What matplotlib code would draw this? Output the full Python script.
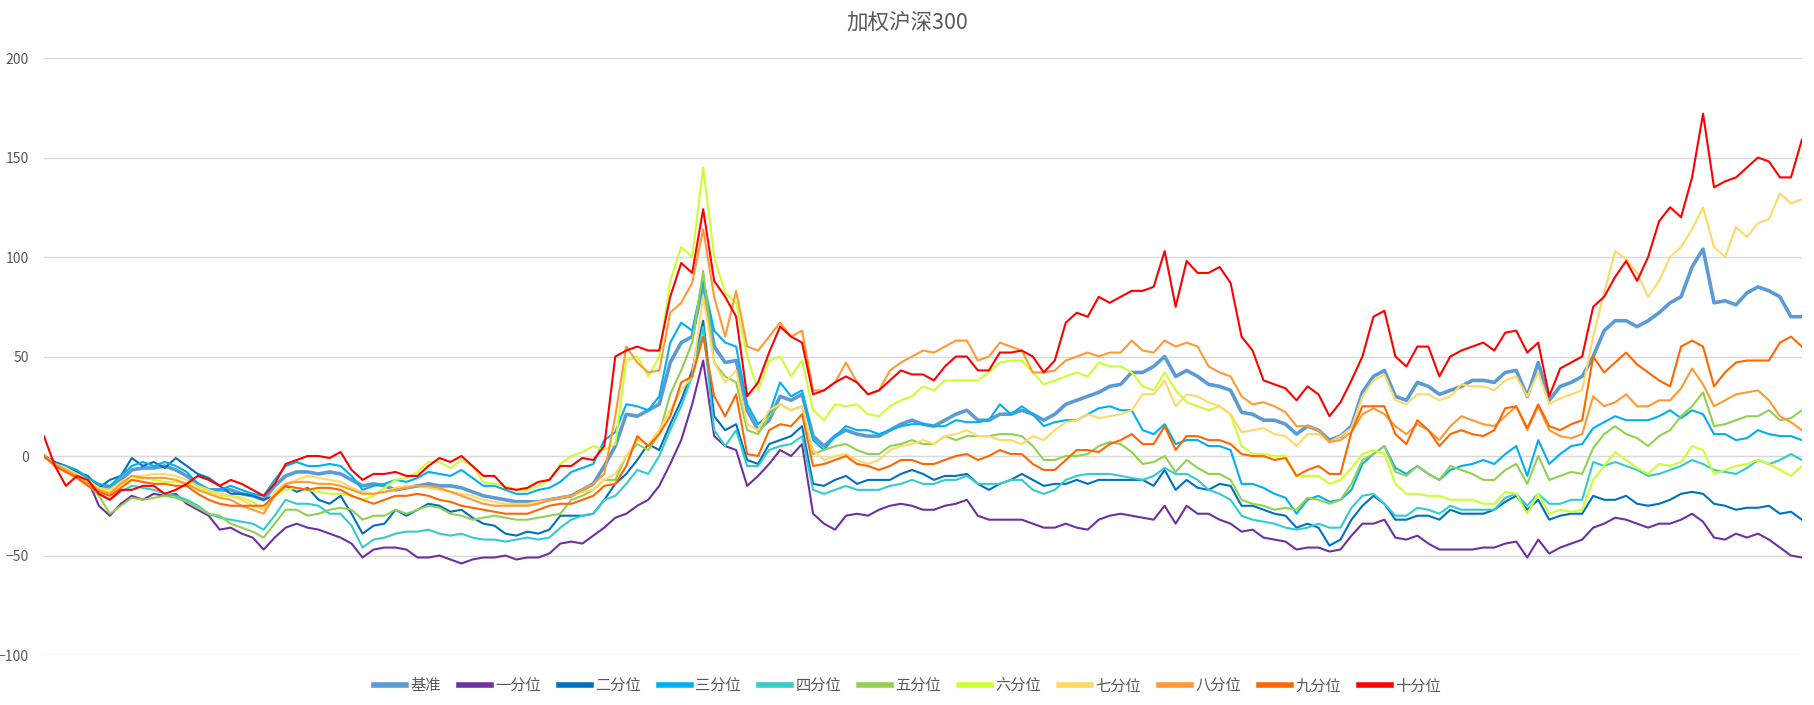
import matplotlib
matplotlib.use("Agg")
import matplotlib.pyplot as plt

plt.rcParams['font.family'] = ['Noto Sans CJK SC', 'DejaVu Sans']

# trading-day index of each sample (one reading every 10 days)
days = list(range(0, 1601, 10))

labels = ['基准', '一分位', '二分位', '三分位', '四分位', '五分位',
          '六分位', '七分位', '八分位', '九分位', '十分位']

bench = [0, -4, -6, -8, -12, -15, -16, -12, -7, -6,
         -6, -5, -7, -10, -14, -17, -17, -17, -19, -20,
         -22, -15, -10, -8, -8, -9, -8, -9, -12, -15,
         -14, -15, -17, -16, -15, -14, -15, -15, -16, -18,
         -20, -21, -22, -23, -23, -23, -22, -21, -20, -17,
         -14, -5, 5, 21, 20, 23, 26, 47, 57, 60,
         87, 55, 47, 48, 23, 13, 18, 30, 28, 31,
         10, 5, 10, 13, 11, 10, 10, 13, 16, 18,
         16, 15, 18, 21, 23, 18, 18, 21, 21, 23,
         21, 18, 21, 26, 28, 30, 32, 35, 36, 42,
         42, 45, 50, 40, 43, 40, 36, 35, 33, 22,
         21, 18, 18, 16, 11, 15, 13, 8, 10, 15,
         32, 40, 43, 30, 28, 37, 35, 31, 33, 35,
         38, 38, 37, 42, 43, 30, 47, 28, 35, 37,
         40, 50, 63, 68, 68, 65, 68, 72, 77, 80,
         95, 104, 77, 78, 76, 82, 85, 83, 80, 70,
         70]
q1 = [0, -4, -8, -9, -12, -25, -30, -24, -20, -22,
      -19, -20, -19, -24, -27, -30, -37, -36, -39, -41,
      -47, -41, -36, -34, -36, -37, -39, -41, -44, -51,
      -47, -46, -46, -47, -51, -51, -50, -52, -54, -52,
      -51, -51, -50, -52, -51, -51, -49, -44, -43, -44,
      -40, -36, -31, -29, -25, -22, -15, -4, 8, 26,
      48, 10, 5, 3, -15, -10, -4, 3, 0, 6,
      -29, -34, -37, -30, -29, -30, -27, -25, -24, -25,
      -27, -27, -25, -24, -22, -30, -32, -32, -32, -32,
      -34, -36, -36, -34, -36, -37, -32, -30, -29, -30,
      -31, -32, -25, -34, -25, -29, -29, -32, -34, -38,
      -37, -41, -42, -43, -47, -46, -46, -48, -47, -40,
      -34, -34, -32, -41, -42, -40, -44, -47, -47, -47,
      -47, -46, -46, -44, -43, -51, -42, -49, -46, -44,
      -42, -36, -34, -31, -32, -34, -36, -34, -34, -32,
      -29, -33, -41, -42, -39, -41, -39, -42, -46, -50,
      -51]
q2 = [0, -3, -5, -8, -10, -16, -12, -10, -1, -5,
      -3, -6, -1, -5, -9, -11, -15, -19, -19, -20,
      -22, -20, -15, -18, -16, -22, -24, -20, -29, -39,
      -35, -34, -27, -30, -27, -24, -25, -28, -27, -31,
      -34, -35, -39, -40, -38, -39, -37, -30, -30, -30,
      -29, -22, -14, -9, -2, 6, 3, 16, 28, 43,
      68, 20, 13, 16, -2, -4, 6, 8, 10, 15,
      -14, -15, -12, -10, -14, -12, -12, -12, -9, -7,
      -9, -12, -10, -10, -9, -14, -17, -14, -12, -9,
      -12, -15, -14, -14, -12, -14, -12, -12, -12, -12,
      -12, -15, -7, -17, -12, -16, -17, -14, -15, -25,
      -25, -27, -29, -30, -36, -34, -36, -45, -42, -32,
      -25, -20, -24, -32, -32, -30, -30, -32, -27, -29,
      -29, -29, -27, -23, -20, -27, -22, -32, -30, -29,
      -29, -20, -22, -22, -20, -24, -25, -24, -22, -19,
      -18, -19, -24, -25, -27, -26, -26, -25, -29, -28,
      -32]
q3 = [0, -4, -5, -7, -11, -14, -15, -10, -5, -3,
      -5, -3, -5, -8, -14, -17, -17, -15, -17, -19,
      -20, -12, -5, -3, -5, -5, -4, -5, -10, -17,
      -15, -14, -12, -13, -11, -8, -9, -10, -7, -11,
      -15, -15, -17, -19, -19, -17, -16, -13, -8, -6,
      -4, 8, 12, 26, 25, 23, 30, 57, 67, 63,
      88, 63, 57, 55, 26, 16, 21, 37, 30, 33,
      8, 3, 10, 15, 13, 13, 11, 13, 15, 16,
      16, 15, 15, 18, 17, 17, 18, 26, 21, 25,
      21, 15, 17, 18, 18, 21, 24, 25, 23, 23,
      13, 11, 16, 6, 8, 8, 5, 5, 3, -14,
      -14, -16, -19, -21, -29, -22, -20, -23, -22, -17,
      -4, 1, 5, -6, -9, -5, -9, -12, -7, -5,
      -4, -2, -4, 1, 5, -10, 8, -4, 1, 5,
      6, 14, 17, 20, 18, 18, 18, 20, 23, 19,
      23, 21, 11, 11, 8, 9, 13, 11, 10, 10,
      8]
q4 = [0, -4, -7, -10, -14, -19, -22, -18, -15, -16,
      -17, -19, -20, -22, -25, -29, -31, -32, -33, -34,
      -37, -30, -22, -24, -24, -25, -29, -29, -35, -46,
      -42, -41, -39, -38, -38, -37, -39, -40, -39, -41,
      -42, -42, -43, -42, -41, -42, -41, -36, -32, -30,
      -29, -22, -20, -14, -7, -9, 0, 13, 25, 40,
      65, 13, 5, 13, -5, -5, 3, 5, 6, 10,
      -17, -19, -17, -15, -17, -17, -17, -15, -14, -12,
      -14, -14, -12, -12, -10, -14, -14, -14, -12, -12,
      -17, -19, -17, -12, -10, -9, -9, -9, -10, -11,
      -12, -10, -6, -9, -9, -12, -17, -19, -22, -30,
      -32, -33, -34, -36, -37, -36, -34, -36, -36, -26,
      -20, -19, -24, -30, -30, -26, -27, -29, -25, -27,
      -27, -27, -27, -21, -19, -25, -19, -24, -24, -22,
      -22, -3, -5, -3, -5, -7, -10, -9, -7, -5,
      -2, -4, -7, -8, -9, -6, -2, -4, -2, 1,
      -2]
q5 = [0, -4, -7, -10, -14, -20, -29, -25, -21, -22,
      -21, -20, -21, -23, -26, -29, -30, -34, -36, -38,
      -41, -34, -27, -27, -30, -29, -27, -26, -27, -32,
      -30, -30, -27, -29, -27, -25, -26, -29, -30, -32,
      -31, -30, -31, -32, -32, -31, -30, -29, -22, -20,
      -17, -12, -12, 0, 6, 3, 11, 31, 43, 57,
      93, 47, 40, 37, 13, 11, 20, 26, 23, 25,
      1, 3, 5, 6, 3, 1, 1, 5, 6, 8,
      6, 6, 10, 8, 10, 10, 10, 11, 11, 10,
      5, -2, -2, 0, 0, 1, 5, 7, 6, 2,
      -4, -3, 0, -8, -2, -6, -9, -9, -12, -22,
      -24, -25, -27, -26, -27, -21, -22, -24, -22, -14,
      -2, 1, 5, -8, -10, -5, -9, -12, -5, -7,
      -9, -12, -12, -7, -4, -14, 0, -12, -10, -8,
      -9, 4, 11, 15, 11, 9, 5, 10, 13, 20,
      25, 32, 15, 16, 18, 20, 20, 23, 18, 19,
      23]
q6 = [0, -4, -7, -9, -12, -16, -18, -14, -12, -11,
      -12, -13, -13, -14, -16, -18, -20, -20, -21, -23,
      -27, -20, -17, -16, -17, -18, -19, -19, -20, -22,
      -20, -16, -12, -11, -8, -3, -3, -6, -2, -5,
      -13, -14, -15, -17, -17, -15, -12, -4, 0, 2,
      5, 3, 6, 48, 50, 40, 50, 88, 105, 100,
      145, 100, 82, 77, 50, 33, 48, 50, 40, 48,
      23, 18, 26, 25, 26, 21, 20, 25, 28, 30,
      35, 33, 38, 38, 38, 38, 42, 47, 48, 48,
      42, 36, 38, 40, 42, 40, 47, 45, 45, 42,
      35, 33, 42, 33, 27, 25, 23, 25, 21, 5,
      1, 1, 0, 0, -10, -10, -10, -14, -12, -6,
      1, 3, 1, -14, -19, -19, -20, -20, -22, -22,
      -22, -24, -24, -18, -19, -29, -19, -29, -27, -28,
      -27, -12, -5, 2, -2, -6, -9, -4, -5, -3,
      5, 3, -9, -7, -5, -4, -2, -4, -7, -10,
      -5]
q7 = [0, -4, -6, -9, -13, -16, -17, -13, -10, -10,
      -9, -9, -10, -12, -15, -17, -19, -20, -22, -25,
      -27, -18, -14, -12, -10, -11, -12, -13, -16, -18,
      -19, -18, -16, -15, -15, -16, -17, -18, -19, -20,
      -22, -23, -24, -24, -24, -23, -22, -21, -20, -18,
      -17, -12, -9, 0, 8, 6, 13, 23, 33, 40,
      80, 47, 37, 43, 16, 13, 23, 26, 23, 25,
      3, -2, 0, 1, -2, -4, -2, 3, 5, 6,
      8, 6, 10, 11, 13, 10, 10, 8, 8, 6,
      10, 8, 13, 17, 18, 21, 19, 20, 21, 23,
      31, 31, 38, 25, 31, 30, 27, 25, 21, 12,
      13, 14, 11, 10, 5, 11, 11, 7, 10, 14,
      30, 38, 41, 28, 26, 31, 31, 28, 30, 36,
      35, 35, 33, 38, 40, 30, 42, 26, 29, 31,
      33, 60, 82, 103, 99, 92, 80, 88, 100, 105,
      114, 125, 105, 100, 115, 110, 117, 119, 132, 127,
      129]
q8 = [0, -4, -7, -10, -14, -17, -19, -14, -10, -11,
      -11, -11, -12, -14, -17, -19, -21, -22, -25, -27,
      -29, -20, -14, -13, -13, -14, -14, -15, -17, -19,
      -19, -18, -17, -16, -15, -15, -16, -18, -20, -22,
      -24, -25, -25, -25, -25, -24, -22, -21, -20, -17,
      -14, -9, 20, 55, 47, 42, 43, 72, 77, 87,
      114, 80, 60, 83, 55, 53, 60, 67, 60, 63,
      33, 33, 37, 47, 37, 31, 33, 43, 47, 50,
      53, 52, 55, 58, 58, 48, 50, 57, 55, 53,
      42, 42, 43, 48, 50, 52, 50, 52, 52, 58,
      53, 52, 58, 55, 57, 55, 45, 42, 40, 30,
      26, 27, 25, 22, 15, 15, 13, 7, 8, 12,
      21, 24, 21, 15, 11, 16, 13, 8, 15, 20,
      18, 16, 15, 20, 25, 13, 25, 13, 10, 9,
      11, 30, 25, 27, 31, 25, 25, 28, 28, 34,
      44, 36, 25, 28, 31, 32, 33, 28, 20, 17,
      13]
q9 = [0, -5, -8, -11, -15, -18, -20, -16, -12, -13,
      -14, -14, -15, -15, -19, -22, -24, -25, -25, -25,
      -25, -20, -15, -16, -17, -16, -16, -17, -20, -22,
      -24, -22, -20, -20, -19, -20, -22, -23, -25, -26,
      -27, -28, -29, -29, -29, -27, -25, -24, -24, -22,
      -20, -15, -14, -5, 10, 5, 11, 20, 37, 40,
      60, 30, 20, 31, 1, 0, 13, 16, 15, 21,
      -5, -4, -2, 0, -4, -5, -7, -5, -2, -2,
      -4, -4, -2, 0, 1, -2, 0, 3, 1, 1,
      -4, -7, -7, -2, 3, 3, 2, 6, 8, 11,
      6, 6, 15, 3, 10, 10, 8, 8, 6, 1,
      0, 0, -2, -1, -10, -7, -5, -9, -9, 12,
      25, 25, 25, 11, 6, 18, 13, 5, 11, 13,
      11, 10, 13, 24, 25, 14, 26, 15, 13, 16,
      18, 50, 42, 47, 52, 46, 42, 38, 35, 55,
      58, 55, 35, 42, 47, 48, 48, 48, 57, 60,
      55]
q10 = [10, -5, -15, -10, -12, -19, -22, -17, -17, -15,
       -15, -19, -17, -14, -10, -12, -15, -12, -14, -17,
       -20, -14, -4, -2, 0, 0, -1, 2, -7, -12,
       -9, -9, -8, -10, -10, -5, -1, -3, 0, -5,
       -10, -10, -16, -17, -16, -13, -12, -5, -5, -1,
       -2, 5, 50, 53, 55, 53, 53, 80, 97, 92,
       124, 88, 80, 70, 30, 37, 52, 65, 60, 57,
       31, 33, 37, 40, 37, 31, 33, 38, 43, 41,
       41, 38, 45, 50, 50, 43, 43, 52, 52, 53,
       50, 42, 48, 67, 72, 70, 80, 77, 80, 83,
       83, 85, 103, 75, 98, 92, 92, 95, 87, 60,
       53, 38, 36, 34, 28, 35, 31, 20, 27, 38,
       50, 70, 73, 50, 45, 55, 55, 40, 50, 53,
       55, 57, 53, 62, 63, 52, 57, 30, 44, 47,
       50, 75, 80, 90, 98, 88, 100, 118, 125, 120,
       140, 172, 135, 138, 140, 145, 150, 148, 140, 140,
       159]

series = [bench, q1, q2, q3, q4, q5, q6, q7, q8, q9, q10]
colors = ['#5B9BD5', '#7030A0', '#0070C0', '#00B0F0', '#33CCCC', '#92D050',
          '#CCFF33', '#FFD966', '#FF9933', '#FF6600', '#FF0000']
widths = [2.6, 1.5, 1.5, 1.5, 1.5, 1.5, 1.5, 1.5, 1.5, 1.5, 1.5]

fig = plt.figure(figsize=(18.15, 7.05), dpi=100)
ax = fig.add_axes([0.0242, 0.0709, 0.9686, 0.8468])

for lab, vals, c, w in zip(labels, series, colors, widths):
    assert len(vals) == len(days), (lab, len(vals), len(days))
    ax.plot(days, vals, color=c, lw=w, label=lab, solid_joinstyle='round')

ax.set_xlim(days[0], days[-1])
ax.set_ylim(-100, 200)
ax.set_yticks(range(-100, 201, 50))
ax.set_xticks([])
ax.grid(axis='y', color='#D9D9D9', lw=1)
ax.set_axisbelow(True)
for s in ax.spines.values():
    s.set_visible(False)
ax.tick_params(axis='y', length=0, pad=11, labelsize=10, labelcolor='#595959')

fig.text(0.5, 0.968, '加权沪深300', ha='center', va='center',
         fontsize=15.5, color='#595959')

leg = fig.legend(loc='center', bbox_to_anchor=(0.5, 0.027), ncol=11,
                 frameon=False, fontsize=11, handlelength=2.1,
                 handletextpad=0.3, columnspacing=1.15, labelcolor='#595959')
for l in leg.get_lines():
    l.set_linewidth(4)

fig.savefig('out.png', dpi=100)
